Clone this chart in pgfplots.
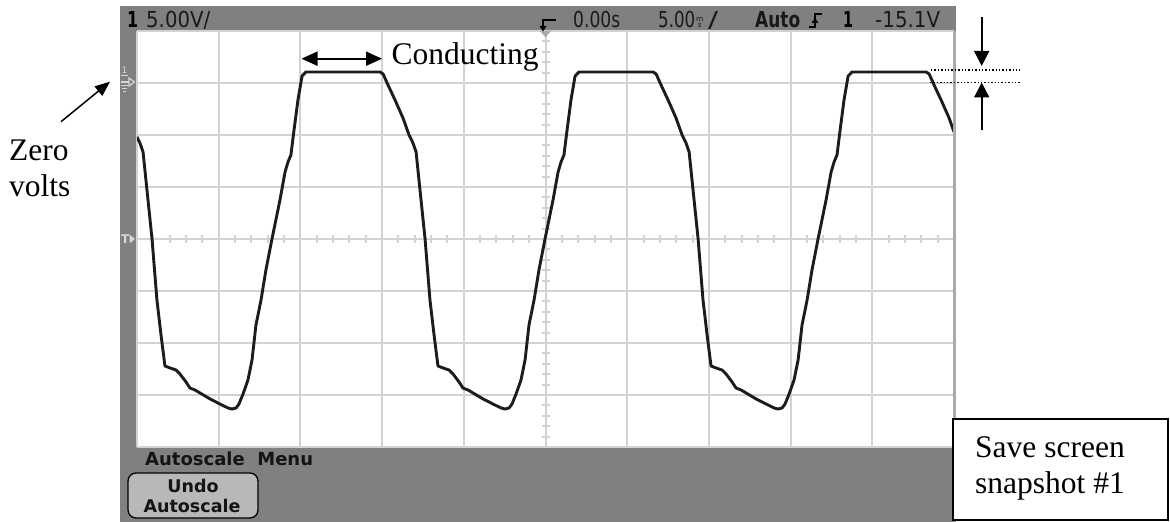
\documentclass[border=0pt]{standalone}
\usepackage{pgfplots}
\pgfplotsset{compat=1.18}
\usepackage{fontspec}
\setmainfont{Liberation Serif}
\newfontfamily\scopefont{DejaVu Sans}
\usetikzlibrary{arrows.meta}
\definecolor{scopegray}{RGB}{128,128,128}
\definecolor{gridgray}{RGB}{210,210,210}
\definecolor{btngray}{RGB}{184,184,184}
\definecolor{wave}{RGB}{28,28,28}
\definecolor{lightmark}{RGB}{215,215,215}
\definecolor{edgegray}{RGB}{170,170,170}
\newcommand\rs[2]{\resizebox{#1}{\height}{#2}}
\begin{document}
\begin{tikzpicture}
\begin{scope}[x=1pt,y=1pt]
\fill[scopegray] (120,0) rectangle (956,76);
\fill[scopegray] (120,75) rectangle (137,516);
\fill[scopegray] (120,491) rectangle (956,516);
\end{scope}
\begin{axis}[at={(137pt,75pt)}, anchor=south west, width=817pt, height=416pt,
  scale only axis, xmin=-25, xmax=25, ymin=-35, ymax=5,
  xtick={-25,-20,...,25}, ytick={-35,-30,...,5},
  xticklabels={}, yticklabels={}, major tick length=0pt,
  grid=major, major grid style={draw=gridgray, line width=2pt},
  axis line style={draw=none}, axis background/.style={fill=white}]
\pgfplotsinvokeforeach{-24,-23,-22,-21,-19,-18,-17,-16,-14,-13,-12,-11,-9,-8,-7,-6,-4,-3,-2,-1,1,2,3,4,6,7,8,9,11,12,13,14,16,17,18,19,21,22,23,24}{
  \draw[gridgray, line width=2pt] (axis cs:#1,-15) ++(0pt,-4pt) -- ++(0pt,8pt);
}
\pgfplotsinvokeforeach{-34,-33,-32,-31,-29,-28,-27,-26,-24,-23,-22,-21,-19,-18,-17,-16,-14,-13,-12,-11,-9,-8,-7,-6,-4,-3,-2,-1,1,2,3,4}{
  \draw[gridgray, line width=2pt] (axis cs:0,#1) ++(-4pt,0pt) -- ++(8pt,0pt);
}
\addplot[wave, line width=2.9pt, line join=round, no marks] coordinates {
(-25.00,-5.19) (-24.82,-5.77) (-24.63,-6.63) (-24.39,-10.29) (-24.08,-15.00)
(-23.78,-20.87) (-23.53,-24.23) (-23.29,-27.21) (-22.98,-27.40) (-22.61,-27.60)
(-22.37,-27.98) (-22.00,-28.75) (-21.76,-29.33) (-21.45,-29.52) (-21.14,-29.81)
(-20.53,-30.38) (-19.92,-30.87) (-19.43,-31.25) (-19.19,-31.35) (-18.94,-31.25)
(-18.76,-30.87) (-18.51,-29.90) (-18.21,-28.56) (-17.96,-26.63) (-17.72,-23.27)
(-17.41,-20.87) (-17.11,-17.98) (-16.74,-15.00) (-16.25,-11.25) (-15.94,-8.56)
(-15.76,-7.60) (-15.58,-6.92) (-15.39,-4.52) (-15.15,-1.63) (-14.90,0.67)
(-14.66,1.06) (-12.58,1.06) (-10.13,1.06) (-9.94,0.87) (-9.64,-0.19)
(-9.21,-1.63) (-8.72,-3.37) (-8.35,-5.00)
(-8.11,-5.77) (-7.92,-6.63) (-7.68,-10.29) (-7.37,-15.00) (-7.07,-20.87)
(-6.82,-24.23) (-6.58,-27.21) (-6.27,-27.40) (-5.90,-27.60) (-5.66,-27.98)
(-5.29,-28.75) (-5.05,-29.33) (-4.74,-29.52) (-4.43,-29.81) (-3.82,-30.38)
(-3.21,-30.87) (-2.72,-31.25) (-2.48,-31.35) (-2.23,-31.25) (-2.05,-30.87)
(-1.80,-29.90) (-1.50,-28.56) (-1.25,-26.63) (-1.01,-23.27) (-0.70,-20.87)
(-0.40,-17.98) (-0.03,-15.00) (0.46,-11.25) (0.77,-8.56) (0.95,-7.60)
(1.13,-6.92) (1.32,-4.52) (1.56,-1.63) (1.81,0.67) (2.05,1.06)
(4.13,1.06) (6.58,1.06) (6.77,0.87) (7.07,-0.19) (7.50,-1.63)
(7.99,-3.37) (8.36,-5.00)
(8.60,-5.77) (8.79,-6.63) (9.03,-10.29) (9.34,-15.00) (9.64,-20.87)
(9.89,-24.23) (10.13,-27.21) (10.44,-27.40) (10.81,-27.60) (11.05,-27.98)
(11.42,-28.75) (11.66,-29.33) (11.97,-29.52) (12.28,-29.81) (12.89,-30.38)
(13.50,-30.87) (13.99,-31.25) (14.23,-31.35) (14.48,-31.25) (14.66,-30.87)
(14.91,-29.90) (15.21,-28.56) (15.46,-26.63) (15.70,-23.27) (16.01,-20.87)
(16.31,-17.98) (16.68,-15.00) (17.17,-11.25) (17.48,-8.56) (17.66,-7.60)
(17.84,-6.92) (18.03,-4.52) (18.27,-1.63) (18.52,0.67) (18.76,1.06)
(20.84,1.06) (23.29,1.06) (23.48,0.87) (23.78,-0.19) (24.21,-1.63)
(24.70,-3.37) (25.00,-4.70)
};
\end{axis}
\begin{scope}[x=1pt,y=1pt]
% right edge of screen
\draw[edgegray, line width=2.5pt] (954.5,75) -- (954.5,491);
% left bar markers
\node[font=\scopefont\fontsize{9}{9}\selectfont, text=lightmark, inner sep=0] at (124.5,452) {1};
\draw[lightmark, line width=1pt] (121,446.5) -- (128,446.5);
\draw[lightmark, line width=1.2pt] (121,440) -- (129,440);
\draw[lightmark, line width=1.2pt] (129,444) -- (134.5,440) -- (129,436) -- cycle;
\draw[lightmark, line width=1pt] (121,436) -- (128,436) (122,433) -- (127,433) (123,430) -- (126,430);
\node[font=\scopefont\bfseries\fontsize{12}{12}\selectfont, text=lightmark, inner sep=0, anchor=west] at (121,283) {T};
\fill[lightmark] (129.5,287.5) -- (135,283) -- (129.5,278.5) -- cycle;
% top bar
\node[anchor=base west, inner sep=0, font=\scopefont\bfseries\fontsize{22}{22}\selectfont] at (127,494.5) {\rs{11pt}{1}};
\node[anchor=base west, inner sep=0, font=\scopefont\fontsize{22}{22}\selectfont, text=black!90] at (146,494.5) {\rs{64pt}{5.00V/}};
\fill[edgegray] (540,491) -- (551,491) -- (545.5,484.5) -- cycle;
\draw[black, line width=2.2pt] (556,502) -- (543,502) -- (543,495);
\fill[black] (539.5,496) -- (546.5,496) -- (543,490.5) -- cycle;
\node[anchor=base west, inner sep=0, font=\scopefont\fontsize{22}{22}\selectfont, text=black!90] at (573,494.5) {\rs{47pt}{0.00s}};
\node[anchor=base west, inner sep=0, font=\scopefont\fontsize{22}{22}\selectfont, text=black!90] at (658,494.5) {\rs{37pt}{5.00}};
\node[anchor=base west, inner sep=0, font=\scopefont\fontsize{7.5}{7}\selectfont, text=black!90, align=center] at (696,494.5) {\shortstack{m\\[-1pt]s}};
\node[anchor=base west, inner sep=0, font=\scopefont\fontsize{22}{22}\selectfont, text=black!90] at (708,494.5) {\rs{10pt}{/}};
\node[anchor=base west, inner sep=0, font=\scopefont\bfseries\fontsize{22}{22}\selectfont, text=black!90] at (755,494.5) {\rs{45pt}{Auto}};
\draw[black, line width=2pt] (809,495) -- (815,495) -- (815,508) -- (822,508);
\fill[black] (811.5,499) -- (818.5,499) -- (815,504) -- cycle;
\node[anchor=base west, inner sep=0, font=\scopefont\bfseries\fontsize{22}{22}\selectfont] at (843,494.5) {\rs{10pt}{1}};
\node[anchor=base west, inner sep=0, font=\scopefont\fontsize{22}{22}\selectfont, text=black!90] at (875,494.5) {\rs{65pt}{-15.1V}};
% bottom bar
\node[anchor=base west, inner sep=0, font=\scopefont\bfseries\fontsize{18}{18}\selectfont, text=black!92] at (145,56.3) {Autoscale\ \ Menu};
\draw[black, line width=1.3pt, fill=btngray, rounded corners=8pt] (128,4) rectangle (258,49);
\node[anchor=base, inner sep=0, font=\scopefont\bfseries\fontsize{17.5}{17.5}\selectfont, text=black!92] at (193,29) {Undo};
\node[anchor=base, inner sep=0, font=\scopefont\bfseries\fontsize{17.5}{17.5}\selectfont, text=black!92] at (192,9.3) {Autoscale};
% annotations
\node[anchor=base west, inner sep=0, font=\fontsize{31.5}{36}\selectfont] at (9,361) {Zero};
\node[anchor=base west, inner sep=0, font=\fontsize{31.5}{36}\selectfont] at (9,325) {volts};
\draw[line width=1.5pt, -{Triangle[length=15pt,width=12pt]}] (61,400.3) -- (110,440.3);
\draw[line width=2pt, {Triangle[length=16pt,width=14pt]}-{Triangle[length=16pt,width=14pt]}] (301.5,463.3) -- (382,463.3);
\node[anchor=base west, inner sep=0, font=\fontsize{31.5}{36}\selectfont] at (391.5,457.7) {Conducting};
\draw[line width=1.4pt, dotted] (931,452) -- (1020,452);
\draw[line width=1.4pt, dotted] (930,439.3) -- (1020,439.3);
\draw[line width=1.8pt, -{Triangle[length=15pt,width=15pt]}] (981.7,505) -- (981.7,456);
\draw[line width=1.8pt, -{Triangle[length=15pt,width=15pt]}] (981.7,392) -- (981.7,439.5);
\draw[line width=1.5pt, fill=white] (953,2) rectangle (1168,103);
\node[anchor=base west, inner sep=0, font=\fontsize{31.5}{36}\selectfont] at (975,64) {Save screen};
\node[anchor=base west, inner sep=0, font=\fontsize{31.5}{36}\selectfont] at (975,28) {snapshot \#1};
\path (0,0) rectangle (1170,522);
\end{scope}
\end{tikzpicture}
\end{document}
